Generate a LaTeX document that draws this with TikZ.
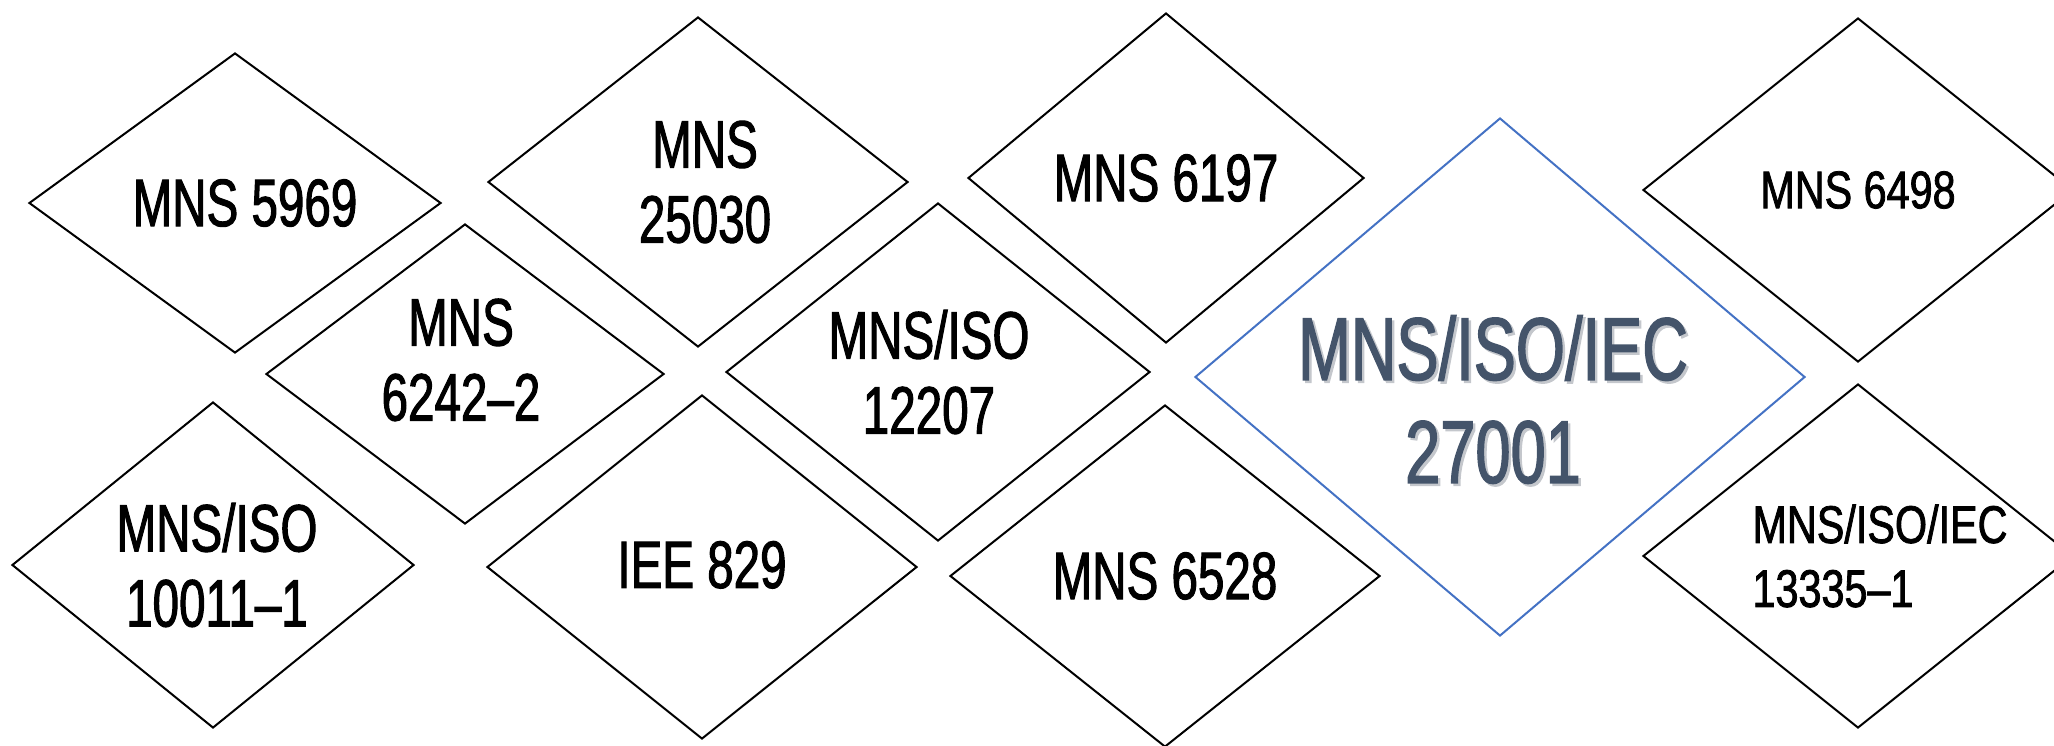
\documentclass[tikz,border=0pt]{standalone}
\usepackage{fontspec}
\setmainfont[FakeStretch=0.71,FakeBold=1.5]{Liberation Sans}
\newfontfamily\narrowfont[FakeStretch=0.78,FakeBold=1.5]{Liberation Sans}
\usetikzlibrary{shapes.geometric}
\definecolor{slate}{HTML}{44546A}
\definecolor{shadowgray}{HTML}{C4C7CC}
\definecolor{lineblue}{HTML}{4472C4}
\newcommand\bigtab{\begin{tabular}{@{}c@{}}MNS/ISO/IEC\\27001\end{tabular}}
\tikzset{
  dia/.style={diamond, draw=black, line width=2pt, inner sep=-45pt, align=center,
    font=\fontsize{67}{75}\selectfont},
  smalldia/.style={dia, font=\narrowfont\fontsize{53}{64}\selectfont},
  bigdia/.style={diamond, draw=lineblue, line width=2pt, inner sep=-80pt, align=center,
    text=slate, font=\fontsize{89}{103}\selectfont}
}
\begin{document}
\begin{tikzpicture}[x=1pt,y=-1pt]
\useasboundingbox (0,0) rectangle (2054,745);
\node[dia, minimum width=412pt, minimum height=300pt] (a5969) at (235,203) {\hspace*{20pt}MNS 5969};
\node[dia, minimum width=420pt, minimum height=330pt] (a25030) at (698,182) {\hspace*{14pt}MNS\\\hspace*{14pt}25030};
\node[dia, minimum width=396pt, minimum height=330pt] (a6197) at (1166,178) {MNS 6197};
\node[dia, minimum width=398pt, minimum height=300pt] (a6242) at (465,374)
  {\raisebox{6pt}[\height][\depth]{\begin{tabular}{@{}c@{}}MNS\\6242–2\end{tabular}}\hspace*{8pt}};
\node[dia, minimum width=424pt, minimum height=338pt] (a12207) at (938,372)
  {\raisebox{-9pt}[\height][\depth]{\begin{tabular}{@{}c@{}}MNS/ISO\\12207\end{tabular}}\hspace*{18pt}};
\node[dia, minimum width=402pt, minimum height=326pt] (a10011) at (213,565) {\hspace*{8pt}MNS/ISO\\\hspace*{8pt}10011–1};
\node[dia, minimum width=430pt, minimum height=344pt] (a829) at (702,567) {\raisebox{5pt}{IEE 829}};
\node[dia, minimum width=430pt, minimum height=342pt] (a6528) at (1165,576) {\raisebox{-3pt}{MNS 6528}};
\node[bigdia, minimum width=610pt, minimum height=518pt] (a27001) at (1500,377)
  {\raisebox{-35pt}[\height][\depth]{\rlap{\hspace*{2.5pt}\raisebox{-2.5pt}{\color{shadowgray}\bigtab}}\bigtab}\hspace*{14pt}};
\node[smalldia, minimum width=430pt, minimum height=344pt] (a6498) at (1858,190) {MNS 6498};
\node[smalldia, minimum width=430pt, minimum height=344pt, align=left] (a13335) at (1858,556)
  {\hspace*{44pt}MNS/ISO/IEC\\\hspace*{44pt}13335–1};
\end{tikzpicture}
\end{document}
